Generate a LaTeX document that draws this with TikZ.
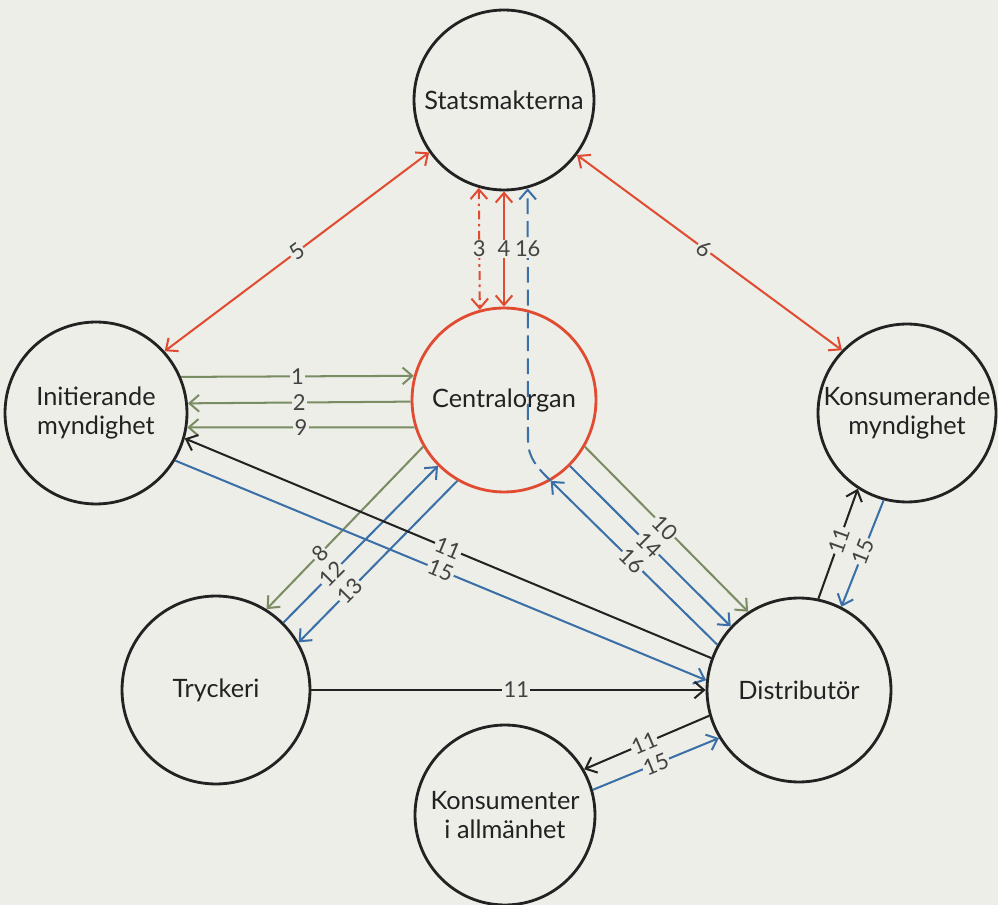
\documentclass[tikz,border=0pt]{standalone}
\usepackage{fontspec}
\setmainfont{Lato}
\usetikzlibrary{arrows.meta}
\definecolor{bg}{HTML}{EDEEE7}
\definecolor{cred}{HTML}{E04B32}
\definecolor{cgreen}{HTML}{7A8C64}
\definecolor{cblue}{HTML}{3A6FA8}
\definecolor{cblack}{HTML}{222222}
\begin{document}
\begin{tikzpicture}[x=0.02cm,y=-0.02cm,
  circ/.style={circle,draw=cblack,line width=1.6pt,inner sep=0pt,align=center,
    font=\fontsize{14.4}{17}\selectfont,text=cblack},
  conn/.style={line width=1.15pt,>={Straight Barb[length=5.5pt,width=9.5pt]}},
  lbl/.style={fill=bg,inner sep=0.7pt,font=\fontsize{12.5}{14}\selectfont,text=cblack!85},
  slbl/.style={lbl,sloped},
  redc/.style={conn,draw=cred},
  greenc/.style={conn,draw=cgreen},
  bluec/.style={conn,draw=cblue},
  blackc/.style={conn,draw=cblack}]
\fill[bg] (0,0) rectangle (998,905);
\useasboundingbox (0,0) rectangle (998,905);
% nodes
\node[circ,minimum size=3.6cm] (S) at (504,100) {Statsmakterna};
\node[circ,minimum size=3.68cm,draw=cred] (C) at (504,400) {Centralorgan};
\node[circ,minimum size=3.64cm] (I) at (96,413) {Initierande\\myndighet};
\node[circ,minimum size=3.56cm] (K) at (907,413) {Konsumerande\\myndighet};
\node[circ,minimum size=3.76cm] (T) at (216,690) {Tryckeri};
\node[circ,minimum size=3.68cm] (D) at (799,690) {Distributör};
\node[circ,minimum size=3.6cm] (P) at (505,815) {Konsumenter\\i allmänhet};
% red
\draw[redc,<->] (I.42.6) -- node[pos=0.5,slbl]{5} (S.215.5);
\draw[redc,<->] (S.323) -- node[pos=0.48,slbl]{6} (K.136.2);
\draw[redc,<->,dash pattern=on 5pt off 2.5pt on 1.5pt off 2.5pt] (S.254.5) -- node[pos=0.5,lbl]{3} (C.105.1);
\draw[redc,<->] (S.south) -- node[pos=0.5,lbl]{4} (C.north);
% green horizontal
\draw[greenc,->] (I.23.3) -- node[pos=0.5,lbl]{1} (C.165.5);
\draw[greenc,->] (C.181.2) -- node[pos=0.5,lbl]{2} (I.6.9);
\draw[greenc,->] (C.197.1) -- node[pos=0.5,lbl]{9} (I.351.2);
% C - D
\draw[greenc,->] (C.330.7) -- node[pos=0.49,slbl]{10} (D.123.7);
\draw[bluec,->] (C.315) -- node[pos=0.49,slbl]{14} (D.137.9);
\draw[bluec,->] (D.151.1) -- node[pos=0.51,slbl]{16} (C.300.5);
\coordinate (bend) at (528,440);
\draw[bluec,->,dash pattern=on 9pt off 4pt] (C.300.5) to[out=135,in=-90] (bend) -- node[pos=0.76,lbl]{16} (S.285.5);
% C - T
\draw[greenc,->] (C.210.7) -- node[pos=0.66,slbl]{8} (T.58.2);
\draw[bluec,->] (T.45) -- node[pos=0.31,slbl]{12} (C.225);
\draw[bluec,->] (C.240.9) -- node[pos=0.68,slbl]{13} (T.30.9);
% D - I
\draw[blackc,->] (D.160) -- node[pos=0.5,slbl]{11} (I.344.4);
\draw[bluec,->] (I.329.3) -- node[pos=0.5,slbl]{15} (D.174);
% T - D
\draw[blackc,->] (T.east) -- node[pos=0.52,lbl]{11} (D.west);
% D - K
\draw[blackc,->] (D.78.1) -- node[pos=0.53,slbl]{11} (K.237.1);
\draw[bluec,->] (K.255.6) -- node[pos=0.48,slbl]{15} (D.63.2);
% D - P
\draw[blackc,->] (D.196.4) -- node[pos=0.52,slbl]{11} (P.30);
\draw[bluec,->] (P.16.4) -- node[pos=0.5,slbl]{15} (D.211.4);
\end{tikzpicture}
\end{document}
